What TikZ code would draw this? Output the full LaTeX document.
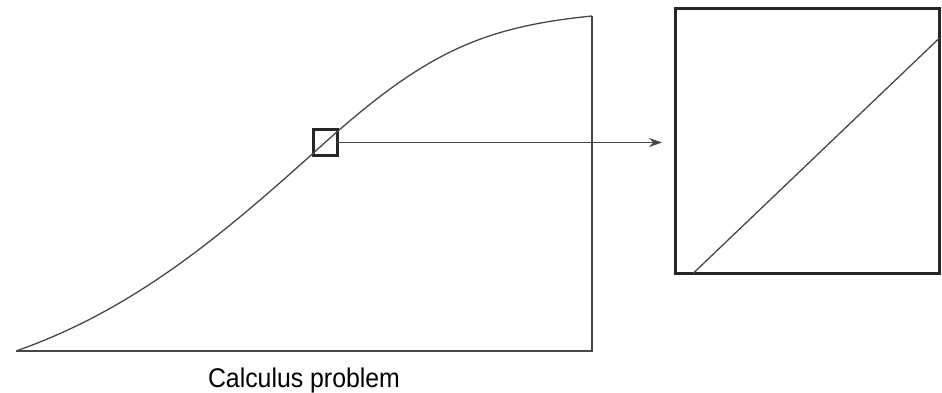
\documentclass[tikz,border=0pt]{standalone}
\usepackage{fontspec}
\setmainfont{Liberation Sans}
\newfontfamily\labelfont{Liberation Sans}[FakeStretch=0.92]
\usetikzlibrary{arrows.meta}
\tikzset{>={Stealth[length=13pt,width=9pt]}}

\begin{document}
\begin{tikzpicture}[x=1pt, y=-1pt,
    thinline/.style={line width=1.3pt, draw=black!72},
    frame/.style={draw=black!85, line width=3pt, inner sep=0pt, outer sep=0pt}]
        \useasboundingbox (0,0) rectangle (942,393);

        % Nodes
        \node[frame, minimum width=24pt, minimum height=25pt] (zoom) at (325,142.5) {};
        \node[frame, minimum width=264pt, minimum height=265pt] (view) at (807.5,141) {};
        \coordinate (start) at (16,351);
        \coordinate (corner) at (592,351);
        \coordinate (top) at (592,16);

        % Curve and axes
        \draw[thinline] (start) .. controls (136,309) and (225,233) .. (zoom.center)
              .. controls (425,53) and (482,27) .. (top);
        \draw[thinline] (start) -- (corner) -- (top);
        \node[anchor=base, font=\labelfont\fontsize{27}{31}\selectfont] (label) at (304,387) {Calculus problem};

        % Magnified view
        \draw[thinline] ([xshift=17.5pt]view.south west) -- ([yshift=-29.5pt]view.north east);
        \draw[->, thinline, shorten >=13.5pt] (zoom.east) -- (zoom.east -| view.west);
    \end{tikzpicture}
\end{document}
